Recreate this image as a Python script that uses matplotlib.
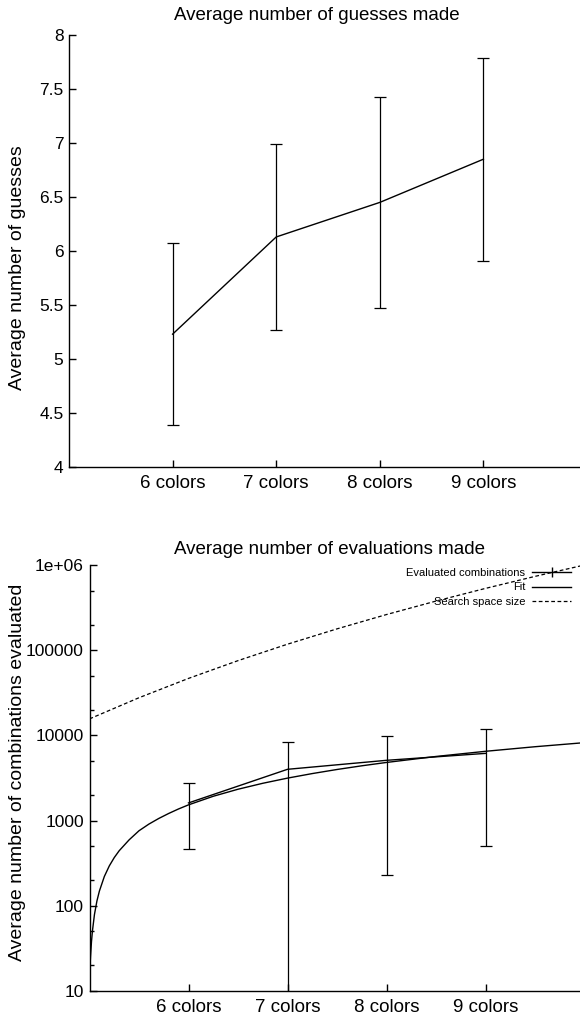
import matplotlib
matplotlib.use("Agg")
import matplotlib.pyplot as plt
from matplotlib.lines import Line2D
from matplotlib.ticker import LogLocator, NullFormatter, FixedLocator

plt.rcParams['font.family'] = ['Liberation Sans', 'DejaVu Sans']

# data
colors = [6, 7, 8, 9]
color_labels = ["6 colors", "7 colors", "8 colors", "9 colors"]

guesses_mean = [5.23, 6.13, 6.45, 6.85]
guesses_err = [0.84, 0.86, 0.98, 0.94]

evals_mean = [1612, 4000, 5100, 6150]
evals_err = [1148, 4430, 4870, 5640]

# fit curve
fit_x = [5.0, 5.005, 5.01, 5.02, 5.03, 5.05, 5.075, 5.1, 5.15, 5.2, 5.25, 5.3, 5.4,
         5.5, 5.6, 5.7, 5.8, 5.9, 6.0, 6.25, 6.5, 6.75, 7.0, 7.25, 7.5, 7.75, 8.0,
         8.5, 9.0, 9.5, 10.0]
fit_y = [14, 19, 25, 38, 51, 79, 114, 149, 221, 294, 368, 443, 594,
         760, 910, 1060, 1213, 1371, 1530, 1930, 2334, 2741, 3152, 3564, 3980, 4397, 4815,
         5659, 6507, 7363, 8221]

space_x = [5, 5.5, 6, 6.5, 7, 7.5, 8, 8.5, 9, 9.5, 10]
space_y = [15625, 27681, 46656, 75419, 117649, 177979, 262144, 377150, 531441, 735092, 1000000]

W, H = 580, 1018
fig = plt.figure(figsize=(W / 100, H / 100), dpi=100)


def style(ax):
    for s in ("top", "right"):
        ax.spines[s].set_visible(False)
    for s in ("left", "bottom"):
        ax.spines[s].set_linewidth(1.0)
    ax.tick_params(direction="in", length=5, width=1, labelsize=12.5, pad=4)
    ax.tick_params(axis="x", labelsize=13.5, pad=6)
    ax.tick_params(which="minor", direction="in", length=3, width=1)
    ax.set_xlim(5, 10)
    ax.xaxis.set_major_locator(FixedLocator(colors))
    ax.set_xticklabels(color_labels)


# top: guesses
ax1 = fig.add_axes([69 / W, 1 - 467 / H, 518 / W, 432 / H])
style(ax1)
ax1.errorbar(colors, guesses_mean, yerr=guesses_err, color="black", lw=1.0,
             elinewidth=0.9, capsize=4, capthick=0.9)
ax1.set_ylim(4, 8)
ax1.set_yticks([4, 4.5, 5, 5.5, 6, 6.5, 7, 7.5, 8])
ax1.set_yticklabels(["4", "4.5", "5", "5.5", "6", "6.5", "7", "7.5", "8"])
fig.text(317 / W, 1 - 15 / H, "Average number of guesses made", ha="center",
         va="center", fontsize=13.5)
fig.text(18 / W, 1 - 268 / H, "Average number of guesses", rotation=90,
         ha="center", va="center", fontsize=14)

# bottom: evaluations
ax2 = fig.add_axes([89.5 / W, 1 - 991 / H, 495 / W, 426 / H])
ax2.set_yscale("log")
style(ax2)
ax2.set_ylim(10, 1e6)
ax2.errorbar(colors, evals_mean, yerr=evals_err, color="black", lw=1.0,
             elinewidth=0.9, capsize=4, capthick=0.9)
fit_line, = ax2.plot(fit_x, fit_y, color="black", lw=1.0)
space_line, = ax2.plot(space_x, space_y, color="black", lw=0.9, ls=(0, (3, 2)))
ax2.yaxis.set_major_locator(FixedLocator([10, 100, 1000, 1e4, 1e5, 1e6]))
ax2.set_yticklabels(["10", "100", "1000", "10000", "100000", "1e+06"])
ax2.yaxis.set_minor_locator(LogLocator(base=10, subs=(2, 5)))
ax2.yaxis.set_minor_formatter(NullFormatter())

eval_handle = Line2D([], [], color="black", lw=1.0, marker="|", markersize=7,
                     markeredgewidth=1.0)
ax2.legend([eval_handle, fit_line, space_line],
           ["Evaluated combinations", "Fit", "Search space size"],
           loc="upper right", bbox_to_anchor=(571 / W, 1 - 568 / H),
           bbox_transform=fig.transFigure, frameon=False, fontsize=8,
           markerfirst=False, handlelength=3.5, handletextpad=0.6,
           labelspacing=0.4, borderaxespad=0, borderpad=0)
fig.text(330 / W, 1 - 549 / H, "Average number of evaluations made", ha="center",
         va="center", fontsize=13.5)
fig.text(18 / W, 1 - 772 / H, "Average number of combinations evaluated", rotation=90,
         ha="center", va="center", fontsize=14)

fig.savefig("out.png", dpi=100)
